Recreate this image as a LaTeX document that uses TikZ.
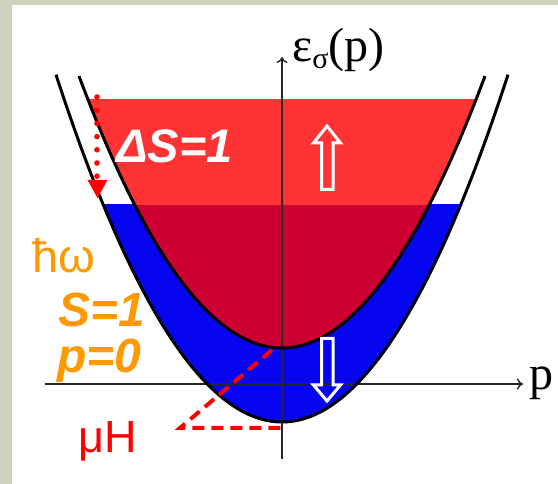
\documentclass[tikz,border=0pt]{standalone}
\usepackage{fontspec}
\setmainfont{Liberation Serif}
\newfontfamily\arialf{Liberation Sans}
\usetikzlibrary{arrows.meta}
\definecolor{bg}{RGB}{206,210,190}
\definecolor{brightred}{RGB}{255,51,51}
\definecolor{darkred}{RGB}{204,0,51}
\definecolor{bandblue}{RGB}{5,5,240}
\definecolor{orng}{RGB}{255,153,0}
\definecolor{lred}{RGB}{255,0,0}
\tikzset{
  curve/.style={line width=3pt, black},
  axis/.style={line width=1.4pt, black!85},
  hollow/.style={white, line width=3pt, line join=miter},
  dashred/.style={lred, line width=4pt, dash pattern=on 12pt off 7pt},
  lbl/.style={inner sep=0pt, anchor=base west}
}
\begin{document}
\begin{tikzpicture}[x=1pt,y=-1pt]
\useasboundingbox (0,0) rectangle (558,484);
\fill[bg] (0,0) rectangle (558,484);
\fill[white] (12,5) rectangle (558,484);
% blue band (inside lower parabola, below Fermi level)
\begin{scope}
  \clip (0,205) rectangle (558,484);
  \fill[bandblue] plot[domain=56:508,samples=150] (\x,{422-(0.08246*(\x-282))^2}) -- cycle;
  \fill[darkred] plot[domain=79:485,samples=150] (\x,{348-(0.08124*(\x-282))^2}) -- cycle;
\end{scope}
% bright red region
\begin{scope}
  \clip (0,100) rectangle (558,205);
  \fill[brightred] plot[domain=79:485,samples=150] (\x,{348-(0.08124*(\x-282))^2}) -- cycle;
\end{scope}
% axes
\coordinate (vb) at (282,459);
\coordinate (vt) at (282,57);
\coordinate (hl) at (45,384);
\coordinate (hr) at (523,384);
\draw[axis,-{To[length=6pt,width=11pt]}] (vb) -- (vt);
\draw[axis,-{To[length=6pt,width=11pt]}] (hl) -- (hr);
% curves
\draw[curve] plot[domain=56:508,samples=150] (\x,{422-(0.08246*(\x-282))^2});
\draw[curve] plot[domain=79:485,samples=150] (\x,{348-(0.08124*(\x-282))^2});
% hollow arrows
\draw[hollow] (327,126) -- (340.5,143) -- (333,143) -- (333,189.5) -- (321.5,189.5) -- (321.5,143) -- (313.5,143) -- cycle;
\draw[hollow] (327,401) -- (340.5,385) -- (333,385) -- (333,338.5) -- (321.5,338.5) -- (321.5,385) -- (313.5,385) -- cycle;
% dashed red lines
\coordinate (ut) at (272,350);
\coordinate (mh) at (180,428);
\coordinate (vl) at (282,428);
\draw[dashred] (ut) -- (mh) -- (vl);
% dotted arrow
\foreach \i in {0,...,6} \fill[lred] (97,{97+13.2*\i}) circle (2.8pt);
\fill[lred] (87.5,180) -- (107.5,180) -- (97.5,198) -- cycle;
% labels
\node[lbl, font=\fontsize{48}{48}\selectfont] (eps) at (292,62) {ε\raisebox{-0.14em}{\fontsize{30}{30}\selectfont σ}(p)};
\node[lbl, font=\fontsize{48}{48}\selectfont] (plab) at (529,390) {p};
\node[lbl, text=white, font=\arialf\bfseries\itshape\fontsize{47}{47}\selectfont] (ds) at (116,163) {ΔS=1};
\node[lbl, text=orng, font=\arialf\fontsize{47}{47}\selectfont] (hw) at (32,273) {ħω};
\node[lbl, text=orng, font=\arialf\bfseries\itshape\fontsize{48}{48}\selectfont] (s1) at (58,327) {S=1};
\node[lbl, text=orng, font=\arialf\bfseries\itshape\fontsize{48}{48}\selectfont] (p0) at (57,373) {p=0};
\node[lbl, text=lred, font=\arialf\fontsize{45}{45}\selectfont] (mu) at (78,453) {μH};
\end{tikzpicture}
\end{document}
